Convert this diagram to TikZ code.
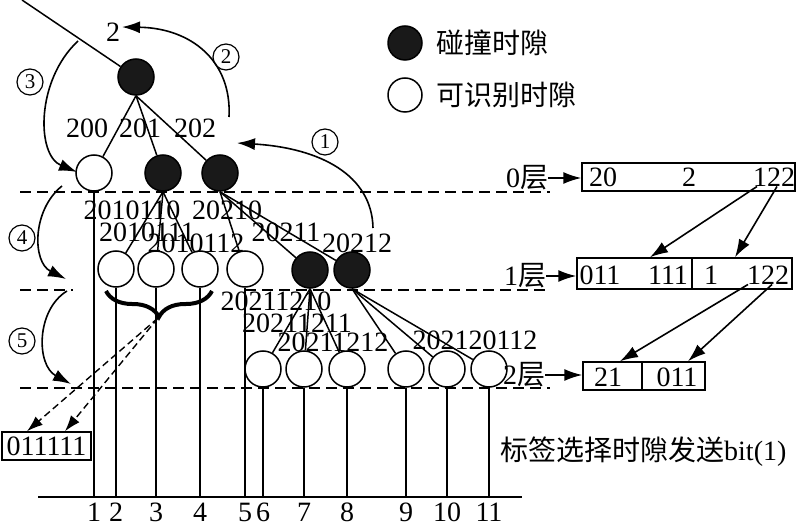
\documentclass[tikz,border=0pt]{standalone}
\usepackage{fontspec}
\setmainfont{Liberation Serif}
\newfontfamily\cjk{Noto Sans CJK SC}
\usetikzlibrary{arrows.meta,decorations.pathreplacing}

\begin{document}
\begin{tikzpicture}[x=1pt,y=-1pt,
        font=\fontsize{28}{30}\selectfont,
        busy/.style={circle,draw,line width=1.5pt,minimum size=36pt,inner sep=0pt,fill=black!90},
        free/.style={circle,draw,line width=1.5pt,minimum size=36pt,inner sep=0pt,fill=white},
        edge/.style={line width=1.5pt},
        layer/.style={line width=2.5pt,dash pattern=on 11pt off 6pt},
        tip/.style={-{Latex[length=18pt,width=12pt]},line width=1.6pt},
        dtip/.style={-{Latex[length=16pt,width=11pt]},line width=1.4pt,dash pattern=on 7pt off 4pt},
        step no/.style={circle,draw,line width=1.2pt,inner sep=0pt,minimum size=26pt,font=\fontsize{21}{22}\selectfont},
        cell/.style={draw,line width=1.5pt,inner sep=0pt},
        lbl/.style={inner sep=0pt}]

        \useasboundingbox (0,0) rectangle (800,529);

        % draw the layer borders
        \coordinate (d0a) at (20,192);
        \coordinate (d0b) at (550,192);
        \coordinate (d1a) at (20,290);
        \coordinate (d1b) at (73,290);
        \coordinate (d1c) at (245,290);
        \coordinate (d1d) at (550,290);
        \coordinate (d2a) at (20,388);
        \coordinate (d2b) at (550,388);
        \draw[layer] (d0a) -- (d0b);
        \draw[layer] (d1a) -- (d1b);
        \draw[layer] (d1c) -- (d1d);
        \draw[layer] (d2a) -- (d2b);

        % draw the tree
        \coordinate (top) at (22,0);
        \node[busy] (root) at (136,77) {};
        \node[free] (n200) at (94,173) {};
        \node[busy] (n201) at (163,173) {};
        \node[busy] (n202) at (220,173) {};

        \node[free] (a1) at (116,269) {};
        \node[free] (a2) at (156,269) {};
        \node[free] (a3) at (200,269) {};
        \node[free] (a4) at (245,269) {};
        \node[busy] (c1) at (310,270) {};
        \node[busy] (c2) at (352,270) {};

        \node[free] (b1) at (263,369) {};
        \node[free] (b2) at (304,369) {};
        \node[free] (b3) at (347,369) {};
        \node[free] (b4) at (406,369) {};
        \node[free] (b5) at (447,369) {};
        \node[free] (b6) at (489,369) {};

        \draw[edge] (top) -- (root);
        \foreach \c in {n200,n201,n202} \draw[edge] (root.south) -- (\c);
        \foreach \c in {a1,a2,a3} \draw[edge] (n201.south) -- (\c);
        \foreach \c in {a4,c1,c2} \draw[edge] (n202.south) -- (\c);
        \foreach \c in {b1,b2,b3} \draw[edge] (c1.south) -- (\c);
        \foreach \c in {b4,b5,b6} \draw[edge] (c2.south) -- (\c);

        % labels of the slots
        \node[lbl] (l2) at (113,32) {2};
        \node[lbl] (l200) at (87,128) {200};
        \node[lbl] (l201) at (140,128) {201};
        \node[lbl] (l202) at (195,128) {202};
        \node[lbl] (l2010110) at (132,210) {2010110};
        \node[lbl] (l2010111) at (147,232) {2010111};
        \node[lbl] (l2010112) at (196,243) {2010112};
        \node[lbl] (l20210) at (227,210) {20210};
        \node[lbl] (l20211) at (286,232) {20211};
        \node[lbl] (l20212) at (357,243) {20212};
        \node[lbl] (l20211210) at (276,301) {20211210};
        \node[lbl] (l20211211) at (297,323) {20211211};
        \node[lbl] (l20211212) at (333,342) {20211212};
        \node[lbl] (l202120112) at (475,340) {202120112};

        % draw the time axis and the slots
        \coordinate (bl) at (38,497);
        \coordinate (br) at (522,497);
        \draw[edge] (bl) -- (br);
        \foreach \n/\k in {n200/1,a1/2,a2/3,a3/4,a4/5,b1/6,b2/7,b3/8,b4/9,b5/10,b6/11}{
            \draw[edge] (\n.south) -- (\n.south |- bl) node[anchor=north,inner sep=1pt,yshift=-4pt,name=s\k] {\k};
        }

        % brace over the identified slots
        \draw[line width=4pt,decorate,decoration={brace,amplitude=26pt}] (212,291) -- (106,291);
        \coordinate (bt) at (158,318);
        \node[cell,minimum width=89pt,minimum height=28pt] (box3) at (46.5,446) {011111};
        \draw[dtip] (bt) -- ([xshift=-19.5pt]box3.north);
        \draw[dtip] (bt) -- ([xshift=18.5pt]box3.north);

        % draw the search order arrows
        \node[step no] (k1) at (325,142) {1};
        \node[step no] (k2) at (226,57) {2};
        \node[step no] (k3) at (30,82) {3};
        \node[step no] (k4) at (22,238) {4};
        \node[step no] (k5) at (22,341) {5};
        \coordinate (r1a) at (373,228);
        \coordinate (r1b) at (237,143);
        \coordinate (r2a) at (229,117);
        \coordinate (r2b) at (122,27);
        \coordinate (r3a) at (78,41);
        \coordinate (r3b) at (77,172);
        \coordinate (r4a) at (62,186);
        \coordinate (r4b) at (66,279);
        \coordinate (r5a) at (67,291);
        \coordinate (r5b) at (71,384);
        \draw[tip] (r1a) .. controls (372,175) and (320,148) .. (r1b);
        \draw[tip] (r2a) .. controls (232,60) and (190,28) .. (r2b);
        \draw[tip] (r3a) .. controls (36,80) and (36,155) .. (r3b);
        \draw[tip] (r4a) .. controls (32,210) and (32,262) .. (r4b);
        \draw[tip] (r5a) .. controls (36,310) and (36,365) .. (r5b);

        % draw the stacks of each layer
        \node[lbl] (L0) at (527,178) {0{\cjk 层}};
        \node[lbl] (L1) at (525,276) {1{\cjk 层}};
        \node[lbl] (L2) at (524,375) {2{\cjk 层}};

        \node[cell,minimum width=213pt,minimum height=28pt] (box0) at (688.5,177) {};
        \node[cell,minimum width=115pt,minimum height=31pt] (box1a) at (634.5,273.5) {};
        \node[cell,minimum width=100pt,minimum height=31pt] (box1b) at (742,273.5) {};
        \node[cell,minimum width=59pt,minimum height=28pt] (box2a) at (612.5,376) {};
        \node[cell,minimum width=63pt,minimum height=28pt] (box2b) at (673.5,376) {};

        \node[lbl] (t20) at (603,177) {20};
        \node[lbl] (t2) at (689,177) {2};
        \node[lbl] (t122a) at (774,177) {122};
        \node[lbl] (t011a) at (600,275) {011};
        \node[lbl] (t111) at (668,275) {111};
        \node[lbl] (t1) at (711,275) {1};
        \node[lbl] (t122b) at (768,275) {122};
        \node[lbl] (t21) at (608,377) {21};
        \node[lbl] (t011b) at (677,377) {011};

        \draw[tip] (L0.east) -- (L0.east -| box0.west);
        \draw[tip] (L1.east) -- (L1.east -| box1a.west);
        \draw[tip] (L2.east) -- (L2.east -| box2a.west);

        \draw[tip] ([xshift=-17pt]t122a.south) -- ([xshift=15.5pt]box1a.north);
        \draw[tip] ([xshift=3pt]t122a.south) -- ([xshift=-7pt]box1b.north);
        \draw[tip] ([xshift=-20pt]t122b.south) -- ([xshift=7.5pt]box2a.north);
        \draw[tip] ([xshift=4pt]t122b.south) -- ([xshift=14.5pt]box2b.north);

        % legend and note
        \node[busy,minimum size=34pt] (key1) at (405,43) {};
        \node[lbl,anchor=west] (key1t) at (436,43) {\cjk 碰撞时隙};
        \node[free,minimum size=34pt] (key2) at (405,95) {};
        \node[lbl,anchor=west] (key2t) at (436,95) {\cjk 可识别时隙};
        \node[lbl,anchor=west] (note) at (500,452) {{\cjk 标签选择时隙发送}bit(1)};
    \end{tikzpicture}
\end{document}
